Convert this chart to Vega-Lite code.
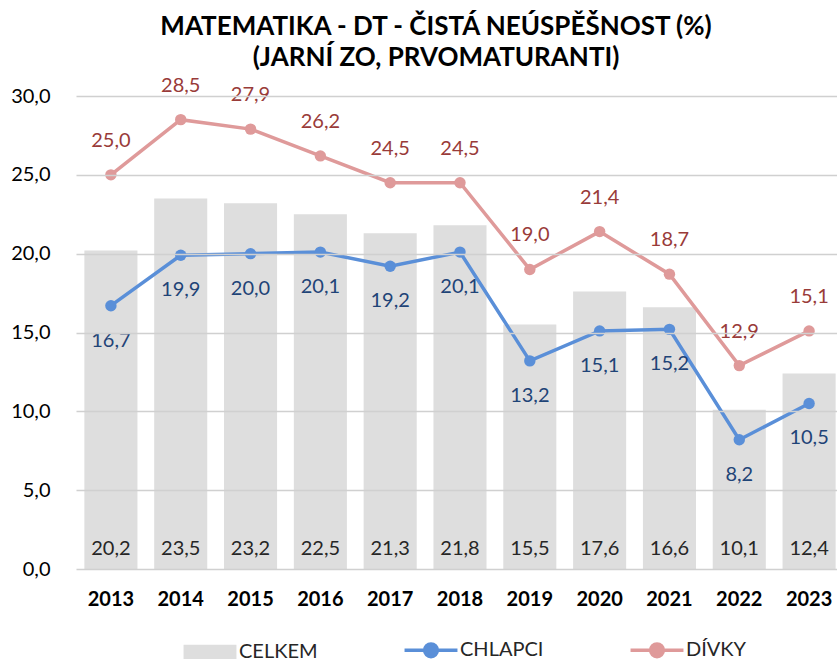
{
  "$schema": "https://vega.github.io/schema/vega-lite/v6.json",
  "width": 768,
  "height": 473,
  "autosize": {"type": "none"},
  "padding": {"left": 76, "top": 96, "right": 0, "bottom": 90},
  "config": {
    "font": "Lato",
    "view": {"stroke": null},
    "locale": {"number": {"decimal": ",", "thousands": " ", "grouping": [3], "currency": ["", " Kč"]}}
  },
  "title": {
    "text": ["MATEMATIKA - DT - ČISTÁ NEÚSPĚŠNOST (%)", "(JARNÍ ZO, PRVOMATURANTI)"],
    "font": "Lato",
    "fontSize": 26,
    "fontWeight": "bold",
    "color": "#000000",
    "anchor": "middle",
    "dx": -24,
    "offset": 5,
    "lineHeight": 31
  },
  "data": {
    "values": [
      {"rok": "2013", "rada": "CELKEM", "hodnota": 20.2},
      {"rok": "2014", "rada": "CELKEM", "hodnota": 23.5},
      {"rok": "2015", "rada": "CELKEM", "hodnota": 23.2},
      {"rok": "2016", "rada": "CELKEM", "hodnota": 22.5},
      {"rok": "2017", "rada": "CELKEM", "hodnota": 21.3},
      {"rok": "2018", "rada": "CELKEM", "hodnota": 21.8},
      {"rok": "2019", "rada": "CELKEM", "hodnota": 15.5},
      {"rok": "2020", "rada": "CELKEM", "hodnota": 17.6},
      {"rok": "2021", "rada": "CELKEM", "hodnota": 16.6},
      {"rok": "2022", "rada": "CELKEM", "hodnota": 10.1},
      {"rok": "2023", "rada": "CELKEM", "hodnota": 12.4},
      {"rok": "2013", "rada": "CHLAPCI", "hodnota": 16.7},
      {"rok": "2014", "rada": "CHLAPCI", "hodnota": 19.9},
      {"rok": "2015", "rada": "CHLAPCI", "hodnota": 20.0},
      {"rok": "2016", "rada": "CHLAPCI", "hodnota": 20.1},
      {"rok": "2017", "rada": "CHLAPCI", "hodnota": 19.2},
      {"rok": "2018", "rada": "CHLAPCI", "hodnota": 20.1},
      {"rok": "2019", "rada": "CHLAPCI", "hodnota": 13.2},
      {"rok": "2020", "rada": "CHLAPCI", "hodnota": 15.1},
      {"rok": "2021", "rada": "CHLAPCI", "hodnota": 15.2},
      {"rok": "2022", "rada": "CHLAPCI", "hodnota": 8.2},
      {"rok": "2023", "rada": "CHLAPCI", "hodnota": 10.5},
      {"rok": "2013", "rada": "DÍVKY", "hodnota": 25.0},
      {"rok": "2014", "rada": "DÍVKY", "hodnota": 28.5},
      {"rok": "2015", "rada": "DÍVKY", "hodnota": 27.9},
      {"rok": "2016", "rada": "DÍVKY", "hodnota": 26.2},
      {"rok": "2017", "rada": "DÍVKY", "hodnota": 24.5},
      {"rok": "2018", "rada": "DÍVKY", "hodnota": 24.5},
      {"rok": "2019", "rada": "DÍVKY", "hodnota": 19.0},
      {"rok": "2020", "rada": "DÍVKY", "hodnota": 21.4},
      {"rok": "2021", "rada": "DÍVKY", "hodnota": 18.7},
      {"rok": "2022", "rada": "DÍVKY", "hodnota": 12.9},
      {"rok": "2023", "rada": "DÍVKY", "hodnota": 15.1}
    ]
  },
  "encoding": {
    "x": {
      "field": "rok",
      "type": "ordinal",
      "scale": {"paddingInner": 0.24, "paddingOuter": 0.12},
      "axis": {
        "title": null,
        "labelAngle": 0,
        "labelFontSize": 20,
        "labelFontWeight": "bold",
        "labelColor": "#000000",
        "labelPadding": 20,
        "domain": false,
        "ticks": false
      }
    },
    "y": {
      "field": "hodnota",
      "type": "quantitative",
      "scale": {"domain": [0, 30], "nice": false},
      "axis": {
        "title": null,
        "values": [0, 5, 10, 15, 20, 25, 30],
        "format": ".1f",
        "labelFontSize": 20,
        "labelColor": "#000000",
        "labelPadding": 26,
        "domain": false,
        "ticks": false,
        "grid": true,
        "gridColor": "#D0D0D0",
        "gridWidth": 1.5,
        "zindex": 1
      }
    }
  },
  "layer": [
    {
      "transform": [{"filter": "datum.rada === 'CELKEM'"}],
      "mark": {"type": "bar", "zindex": 0},
      "encoding": {
        "color": {
          "field": "rada",
          "type": "nominal",
          "scale": {"domain": ["CELKEM", "CHLAPCI", "DÍVKY"], "range": ["#DEDEDE", "#5A8FD8", "#DF9A9A"]},
          "legend": {
            "title": null,
            "orient": "none",
            "direction": "horizontal",
            "legendX": 124,
            "legendY": 544,
            "padding": 0,
            "symbolSize": 2800,
            "labelFontSize": 20,
            "labelColor": "#262626",
            "labelOffset": 19,
            "columnPadding": 79,
            "encode": {
              "symbols": {
                "update": {
                  "shape": {"signal": "datum.value === 'CELKEM' ? 'M-1,-0.27H1V0.27H-1Z' : 'M-1,0H1M0.24,0A0.24,0.24 0 1,1 -0.24,0A0.24,0.24 0 1,1 0.24,0Z'"},
                  "fill": {"scale": "color", "field": "value"},
                  "stroke": {"scale": "color", "field": "value"},
                  "strokeWidth": {"signal": "datum.value === 'CELKEM' ? 0 : 3.5"},
                  "opacity": {"value": 1}
                }
              }
            }
          }
        }
      }
    },
    {
      "transform": [{"filter": "datum.rada === 'CELKEM'"}],
      "mark": {"type": "text", "fontSize": 20, "color": "#262626", "baseline": "alphabetic", "dy": -14, "zindex": 2},
      "encoding": {
        "y": {"datum": 0},
        "text": {"field": "hodnota", "type": "quantitative", "format": ".1f"}
      }
    },
    {
      "transform": [{"filter": "datum.rada !== 'CELKEM'"}],
      "mark": {"type": "line", "strokeWidth": 3.5, "zindex": 2},
      "encoding": {
        "color": {"field": "rada", "type": "nominal", "scale": {"domain": ["CELKEM", "CHLAPCI", "DÍVKY"], "range": ["#DEDEDE", "#5A8FD8", "#DF9A9A"]}}
      }
    },
    {
      "transform": [{"filter": "datum.rada !== 'CELKEM'"}],
      "mark": {"type": "point", "filled": true, "size": 130, "opacity": 1, "zindex": 2},
      "encoding": {
        "color": {"field": "rada", "type": "nominal", "scale": {"domain": ["CELKEM", "CHLAPCI", "DÍVKY"], "range": ["#DEDEDE", "#5A8FD8", "#DF9A9A"]}}
      }
    },
    {
      "transform": [{"filter": "datum.rada === 'CHLAPCI'"}],
      "mark": {"type": "text", "fontSize": 20, "color": "#1F4477", "baseline": "middle", "dy": 35, "zindex": 2},
      "encoding": {
        "text": {"field": "hodnota", "type": "quantitative", "format": ".1f"}
      }
    },
    {
      "transform": [{"filter": "datum.rada === 'DÍVKY'"}],
      "mark": {"type": "text", "fontSize": 20, "color": "#993B39", "baseline": "middle", "dy": -34, "zindex": 2},
      "encoding": {
        "text": {"field": "hodnota", "type": "quantitative", "format": ".1f"}
      }
    }
  ]
}
